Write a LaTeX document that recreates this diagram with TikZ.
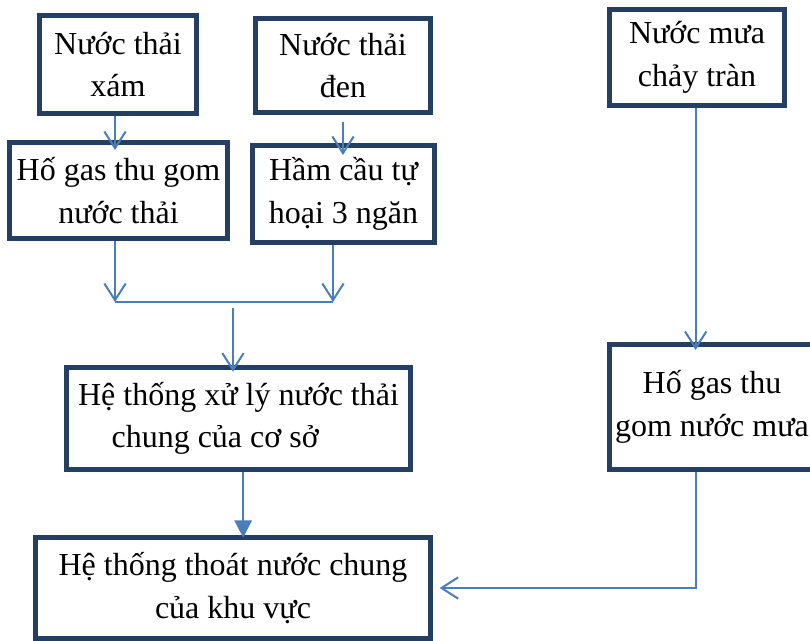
\documentclass[tikz,border=0pt]{standalone}
\usepackage{fontspec}
\setmainfont{Liberation Serif}
\usetikzlibrary{arrows.meta}
\definecolor{boxc}{HTML}{243F61}
\definecolor{arrc}{HTML}{4A7EBB}
\tikzset{
  box/.style={draw=boxc, line width=3.75pt, rectangle, align=center, inner sep=0pt,
    fill=white, font=\fontsize{24}{32}\selectfont},
  conn/.style={draw=arrc, line width=1.5pt},
  arr/.style={conn, -{Straight Barb[length=12.5pt,width=16pt]}},
  farr/.style={conn, -{Triangle[length=13pt,width=13pt]}},
}
\begin{document}
\begin{tikzpicture}[x=0.75pt,y=-0.75pt]
\useasboundingbox (0,0) rectangle (810,641);
\node[box, minimum width=117.75pt, minimum height=73.5pt] (b1) at (118,64.5) {Nước thải\\xám};
\node[box, minimum width=131.25pt, minimum height=70.5pt] (b2) at (343,65.5) {Nước thải\\đen};
\node[box, minimum width=131.25pt, minimum height=72pt] (b3) at (697,57.5) {Nước mưa\\chảy tràn};
\node[box, minimum width=163.5pt, minimum height=72pt] (b4) at (118.5,190.5) {Hố gas thu gom\\nước thải};
\node[box, minimum width=136.5pt, minimum height=72.75pt] (b5) at (343.5,194) {Hầm cầu tự\\hoại 3 ngăn};
\node[box, minimum width=258pt, minimum height=76.5pt] (b6) at (238.5,418.5) {Hệ thống xử lý nước thải\\chung của cơ sở\hspace*{35pt}};
\node[box, minimum width=153.75pt, minimum height=93.75pt] (b7) at (712,407) {Hố gas thu\\gom nước mưa};
\node[box, minimum width=296.25pt, minimum height=75.75pt] (b8) at (233,588) {Hệ thống thoát nước chung\\của khu vực};
\coordinate (jl) at (115,302);
\coordinate (jr) at (333,302);
\coordinate (jm) at (233,308);
\draw[arr, shorten >=-7.5pt] (b1.south -| jl) -- (b4.north -| jl);
\draw[arr, shorten <=5pt, shorten >=-9pt] (b2.south) -- (b5.north -| b2.south);
\draw[arr] (b4.south -| jl) -- (jl);
\draw[arr] (b5.south -| jr) -- (jr);
\draw[conn] (jl) -- (jr);
\draw[arr, shorten >=-5pt] (jm) -- (jm |- b6.north);
\draw[farr, shorten >=-2pt] ([xshift=3.5pt]b6.south) -- ([xshift=3.5pt]b6.south |- b8.north);
\draw[arr, shorten >=-6pt] ([xshift=-1pt]b3.south) -- ([xshift=-1pt]b3.south |- b7.north);
\draw[arr, shorten >=5pt] ([xshift=-12pt]b7.south) |- (b8.east);
\end{tikzpicture}
\end{document}
